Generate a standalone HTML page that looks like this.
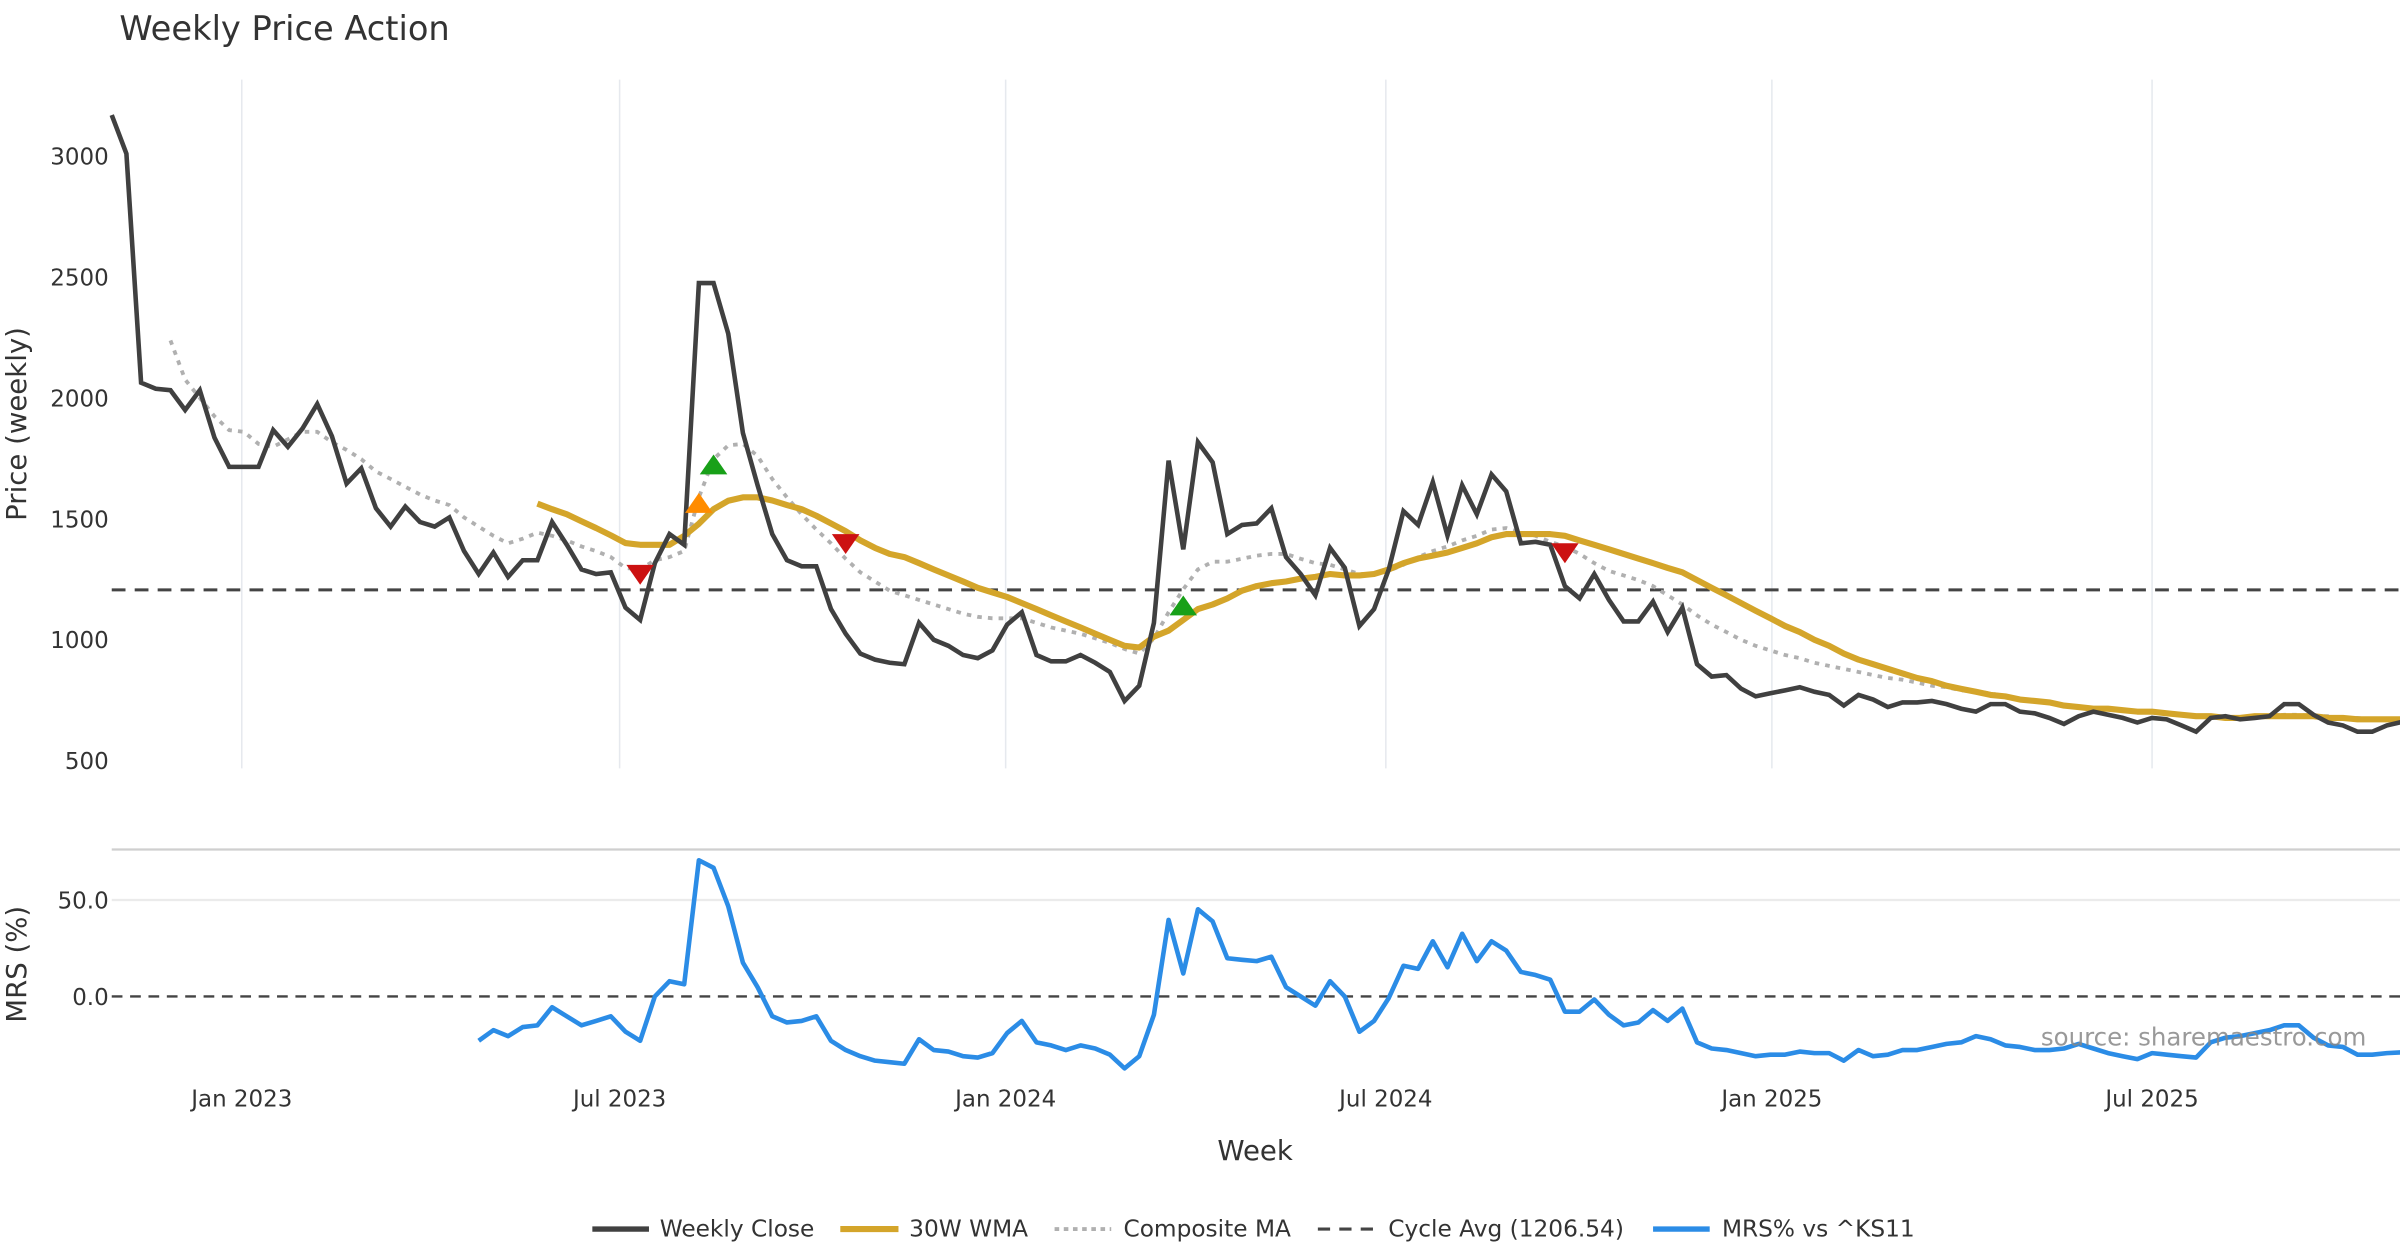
<!DOCTYPE html>
<html><head><meta charset="utf-8"><style>
html,body{margin:0;padding:0;background:#fff;}
svg{display:block;font-family:"DejaVu Sans","Liberation Sans",sans-serif;}
</style></head><body>
<svg id="chart" width="2400" height="1260" viewBox="0 0 1568 823.2" xmlns="http://www.w3.org/2000/svg">
<rect x="0" y="0" width="1568" height="823.2" fill="#fff"/>
<text x="78" y="26" font-size="22" fill="#333">Weekly Price Action</text>
<g id="grid"></g>
<g id="series"></g>
<text transform="translate(17,277) rotate(-90)" text-anchor="middle" font-size="18" fill="#333">Price (weekly)</text>
<text transform="translate(17,630) rotate(-90)" text-anchor="middle" font-size="18" fill="#333">MRS (%)</text>
<text x="820" y="758" text-anchor="middle" font-size="18" fill="#333">Week</text>
<text x="1546" y="683" text-anchor="end" font-size="16" fill="#888" opacity="0.85">source: sharemaestro.com</text>
<g id="legend">
 <line x1="387" y1="803" x2="424" y2="803" stroke="#404040" stroke-width="3.5"/>
 <text x="431" y="808" font-size="15.2" fill="#333">Weekly Close</text>
 <line x1="549" y1="803" x2="587" y2="803" stroke="#d4a52a" stroke-width="4"/>
 <text x="594" y="808" font-size="15.2" fill="#333">30W WMA</text>
 <line x1="689" y1="803" x2="726" y2="803" stroke="#b0b0b0" stroke-width="2.5" stroke-dasharray="3,3"/>
 <text x="734" y="808" font-size="15.2" fill="#333">Composite MA</text>
 <line x1="861" y1="803" x2="898" y2="803" stroke="#444" stroke-width="2" stroke-dasharray="8,6"/>
 <text x="907" y="808" font-size="15.2" fill="#333">Cycle Avg (1206.54)</text>
 <line x1="1080" y1="803" x2="1117" y2="803" stroke="#2b8ce6" stroke-width="3.5"/>
 <text x="1125" y="808" font-size="15.2" fill="#333">MRS% vs ^KS11</text>
</g>
</svg>
<script>
const closeVals=[3170,3010,2063,2038,2032,1950,2032,1836,1715,1715,1715,1867,1798,1874,1975,1842,1646,1709,1544,1468,1551,1487,1468,1506,1367,1272,1361,1260,1329,1329,1487,1393,1291,1272,1279,1133,1082,1317,1437,1393,2475,2475,2266,1855,1639,1437,1329,1304,1304,1127,1025,943,918,905,899,1070,1000,975,937,924,956,1063,1114,937,911,911,937,905,867,747,810,1070,1741,1374,1817,1734,1437,1475,1481,1544,1342,1272,1184,1380,1298,1057,1127,1291,1532,1475,1652,1431,1639,1519,1684,1614,1399,1405,1393,1222,1171,1272,1165,1076,1076,1158,1032,1133,899,848,854,798,766,779,791,804,785,772,728,772,753,722,741,741,747,734,715,703,734,734,703,696,677,652,684,703,690,677,658,677,671,646,620,677,684,671,677,684,734,734,690,658,646,620,620,646,660];
const compositeStart=4;
const compositeVals=[2238,2076,2000,1924,1867,1860,1810,1798,1829,1860,1860,1817,1785,1747,1696,1665,1633,1601,1576,1557,1506,1468,1430,1399,1418,1443,1430,1411,1386,1367,1342,1297,1291,1329,1342,1367,1589,1747,1804,1810,1760,1665,1589,1519,1456,1399,1335,1279,1241,1203,1184,1165,1146,1127,1108,1095,1089,1089,1089,1070,1051,1038,1025,1006,987,962,943,1006,1114,1209,1291,1323,1323,1335,1348,1355,1355,1335,1317,1310,1291,1272,1272,1285,1310,1342,1367,1386,1411,1430,1456,1462,1443,1430,1405,1386,1355,1317,1285,1266,1247,1222,1184,1146,1101,1063,1032,1000,975,956,937,924,905,892,880,867,854,842,835,823,810,804,791,785,779,766,753,747,741,728,722,715,715,709,703,703,696,690,684,684,677,677,677,684,690,690,684,684,677,677,671,671,671];
const wmaStart=29;
const wmaVals=[1563,1540,1519,1490,1462,1432,1400,1393,1393,1393,1430,1480,1540,1575,1589,1589,1576,1557,1540,1513,1481,1449,1411,1380,1355,1342,1317,1291,1266,1241,1215,1196,1177,1152,1127,1101,1076,1051,1025,1000,975,968,1013,1038,1082,1127,1146,1171,1203,1222,1234,1241,1253,1260,1272,1266,1266,1272,1291,1317,1336,1348,1361,1380,1399,1424,1437,1437,1437,1437,1430,1411,1393,1374,1355,1336,1317,1297,1279,1247,1215,1184,1152,1120,1089,1057,1032,1000,975,943,918,899,880,861,842,829,810,797,785,772,766,753,747,741,728,722,715,715,709,703,703,696,690,684,684,677,677,684,684,684,684,684,677,677,671,671,671,671];
const mrsStart=25;
const mrsVals=[-23,-17.5,-20.6,-15.9,-15,-5.6,-10.3,-15,-12.7,-10.3,-18.3,-23,0,7.9,6.3,70.6,66.7,46.8,17.5,4.8,-10.3,-13.5,-12.7,-10.3,-23,-27.8,-31,-33.3,-34.1,-34.9,-22.2,-27.8,-28.6,-31,-31.7,-29.4,-19,-12.7,-23.8,-25.4,-27.8,-25.4,-27,-30.2,-37.3,-31,-9.5,39.7,11.9,45.2,38.9,19.8,19,18.3,20.6,4.8,0,-4.8,7.9,0,-18.3,-12.7,-0.8,15.9,14.3,28.6,15.1,32.5,18.3,28.6,23.8,12.7,11.1,8.7,-7.9,-7.9,-1.6,-9.5,-15,-13.5,-7.1,-12.7,-6.3,-23.8,-27,-27.8,-29.4,-31,-30.2,-30.2,-28.6,-29.4,-29.4,-33.3,-27.8,-31,-30.2,-27.8,-27.8,-26.2,-24.6,-23.8,-20.6,-22.2,-25.4,-26.2,-27.8,-27.8,-27,-24.6,-27,-29.4,-31,-32.5,-29.4,-30.2,-31,-31.7,-23.8,-21.4,-20.6,-19,-17.5,-15,-15,-21.4,-25.4,-26.2,-30.2,-30.2,-29.4,-29];
const cycleAvg=1206.54;
const signalIdx=[36,40,41,50,73,99];
const signalVals=[1272,1563,1722,1399,1139,1361];
const signalTypes=['sell','warn','buy','sell','buy','sell'];
const priceTicks=[500,1000,1500,2000,2500,3000];
const mrsTicks=[0,50];
const dateTickIdx=[8.86,34.6,60.9,86.8,113.1,139];
const dateTickLabels=['Jan 2023','Jul 2023','Jan 2024','Jul 2024','Jan 2025','Jul 2025'];

const NS='http://www.w3.org/2000/svg';
const X0=73,DX=9.59;
function xs(i){return X0+i*DX;}
function yp(v){return 497-(v-500)*0.158;}
function ym(v){return 651-v*1.26;}
function mk(tag,attrs,parent){const e=document.createElementNS(NS,tag);for(const k in attrs)e.setAttribute(k,attrs[k]);parent.appendChild(e);return e;}
const grid=document.getElementById('grid'),ser=document.getElementById('series');

dateTickIdx.forEach((d,k)=>{
 const g=mk('line',{x1:xs(d),x2:xs(d),y1:52,y2:502,stroke:'#e6e9ee','stroke-width':1},grid);
 
 
 const t=mk('text',{x:xs(d),y:723,'text-anchor':'middle','font-size':15,fill:'#333'},grid);
 t.textContent=dateTickLabels[k];
 
 
});
priceTicks.forEach(v=>{
 const t=mk('text',{x:71,y:yp(v)+5.5,'text-anchor':'end','font-size':15,fill:'#333'},grid);
 t.textContent=String(v);
 
 
});
mrsTicks.forEach(v=>{
 if(v!==0){const g=mk('line',{x1:73,x2:1568,y1:ym(v),y2:ym(v),stroke:'#ebebeb','stroke-width':1.5},grid);
 
 }
 const t=mk('text',{x:71,y:ym(v)+5.5,'text-anchor':'end','font-size':15,fill:'#333'},grid);
 t.textContent=v.toFixed(1);
 
 
});
const sep=mk('line',{x1:73,x2:1568,y1:555,y2:555,stroke:'#cfcfcf','stroke-width':1.5},grid);



function path(vals,start,yf){return vals.map((v,i)=>(i?'L':'M')+xs(start+i).toFixed(2)+','+yf(v).toFixed(2)).join(' ');}

const ca=mk('line',{x1:73,x2:1568,y1:yp(cycleAvg),y2:yp(cycleAvg),stroke:'#444','stroke-width':2,'stroke-dasharray':'9,6'},ser);


const cm=mk('path',{d:path(compositeVals,compositeStart,yp),fill:'none',stroke:'#b0b0b0','stroke-width':2.5,'stroke-dasharray':'3,4'},ser);


const wm=mk('path',{d:path(wmaVals,wmaStart,yp),fill:'none',stroke:'#d4a52a','stroke-width':4,'stroke-linejoin':'round'},ser);


const cl=mk('path',{d:path(closeVals,0,yp),fill:'none',stroke:'#404040','stroke-width':3,'stroke-linejoin':'miter'},ser);



signalIdx.forEach((idx,k)=>{
 const x=xs(idx),y=yp(signalVals[k]);let pts,col;
 if(signalTypes[k]==='sell'){col='#cc1111';pts=[[x-9,y-6],[x+9,y-6],[x,y+7]];}
 else{col=signalTypes[k]==='buy'?'#18a018':'#ff8c00';pts=[[x-9,y+6],[x+9,y+6],[x,y-7]];}
 const p=mk('polygon',{points:pts.map(q=>q.join(',')).join(' '),fill:col},ser);
 
 
});

const zl=mk('line',{x1:73,x2:1568,y1:ym(0),y2:ym(0),stroke:'#444','stroke-width':1.5,'stroke-dasharray':'7,5'},ser);


const ml=mk('path',{d:path(mrsVals,mrsStart,ym),fill:'none',stroke:'#2b8ce6','stroke-width':3,'stroke-linejoin':'round'},ser);


</script>
</body></html>
